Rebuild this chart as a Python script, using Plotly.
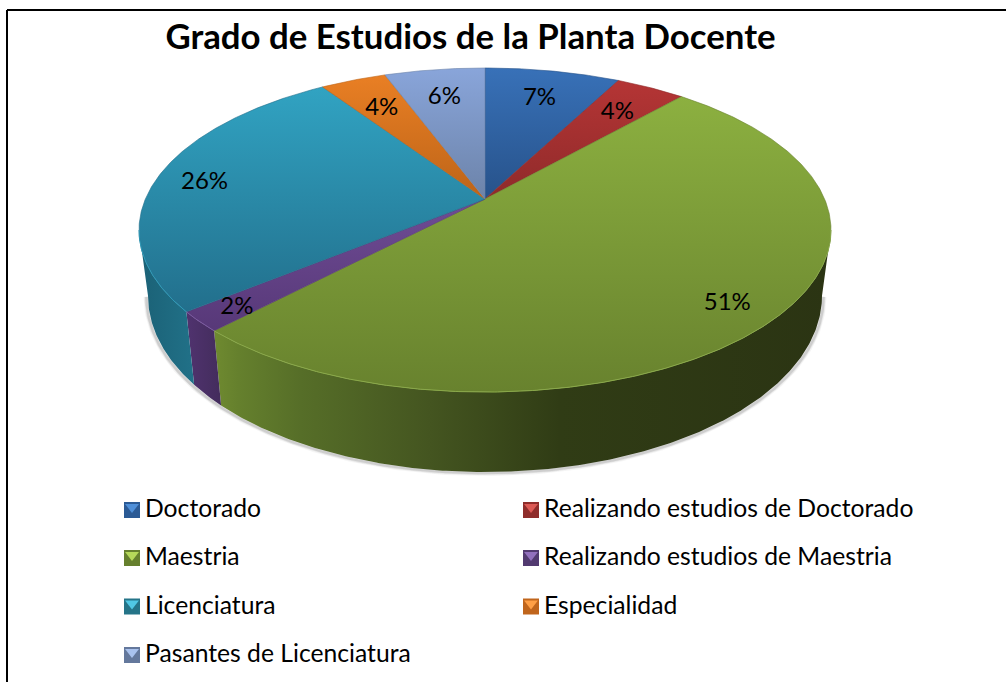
import numpy as np
import plotly.graph_objects as go

# ---------- data ----------
categories = ["Doctorado", "Realizando estudios de Doctorado", "Maestria",
              "Realizando estudios de Maestria", "Licenciatura", "Especialidad",
              "Pasantes de Licenciatura"]
shares = [7.6, 3.9, 50.55, 2.0, 26.6, 3.7, 5.65]
# percentage texts as printed on the chart
percent_labels = ["7%", "4%", "51%", "2%", "26%", "4%", "6%"]

# ---------- style ----------
TITLE = "Grado de Estudios de la Planta Docente"
FONT = "Lato"
label_radius = [.777, .775, .859, .884, .855, .756, .775]
top_colors = [("#27528a", "#3871b8"), ("#8f2a2a", "#b53535"), ("#68822e", "#8cb040"),
              ("#573878", "#6f4c95"), ("#226f8c", "#31a3c2"), ("#bd6418", "#e97f24"),
              ("#6c83a9", "#89a5da")]
wall_colors = {
    2: [[0, "#6f8a30"], [0.04, "#65802d"], [0.14, "#566e28"], [0.35, "#445520"],
        [0.56, "#303c15"], [1, "#2b3413"]],
    3: [[0, "#50336f"], [1, "#432c5c"]],
    4: [[0, "#1b6176"], [1, "#217188"]],
}
swatch_colors = [("#2b5a95", "#4f8fd8"), ("#8f2d2b", "#dc5a55"), ("#66802e", "#b5d85a"),
                 ("#523a70", "#9270bd"), ("#257488", "#50c8e5"), ("#c0651c", "#ff9f45"),
                 ("#64789c", "#a9c2ee")]

# projected pie geometry, page pixels
CX, CY_A, CY_B, CY_C = 485, 199, -118.0, 0.1914
K = 339.6


def project(r, theta):
    u, v = r * np.sin(theta), r * np.cos(theta)
    d = 1 + CY_C * v
    return CX + K * u / d, (CY_B * v + CY_A) / d


def lower(x, y):
    """Matching point on the bottom rim of the pie."""
    return CX + (x - CX) * 0.974, y + 45.7 + 0.0875 * y


def arc(t0, t1, n=None):
    n = n or max(3, int(abs(t1 - t0) * 120))
    return np.linspace(t0, t1, n)


edges = 2 * np.pi * np.cumsum([0] + shares) / sum(shares)
SIL_R, SIL_L = np.pi / 2 + np.arcsin(CY_C), 3 * np.pi / 2 - np.arcsin(CY_C)

fig = go.Figure()

# soft ground shadow below the walls
t = arc(SIL_R, SIL_L, 400)
bx, by = lower(*project(1, t))
for w, a in [(6, .06), (4, .10), (2.5, .16)]:
    fig.add_trace(go.Scatter(x=bx + 1.5 * np.sign(np.sin(t)), y=by + 1, mode="lines",
                             line=dict(color=f"rgba(90,90,90,{a})", width=w),
                             hoverinfo="skip", showlegend=False))

# side walls
for i, cs in wall_colors.items():
    a, b = max(edges[i], SIL_R), min(edges[i + 1], SIL_L)
    t = arc(a, b)
    x, y = project(1, t)
    lx, ly = lower(x, y)
    px, py = np.r_[x, lx[::-1], x[0]], np.r_[y, ly[::-1], y[0]]
    fig.add_trace(go.Scatter(x=px, y=py, mode="lines", fill="toself",
                             line=dict(width=0, color="rgba(0,0,0,0)"),
                             fillcolor=cs[0][1],
                             fillgradient=dict(type="horizontal", colorscale=cs),
                             hoverinfo="skip", showlegend=False))

# top surface wedges
for i, name in enumerate(categories):
    t = arc(edges[i], edges[i + 1])
    x, y = project(1, t)
    ax, ay = project(0, 0.0)
    px, py = np.r_[ax, x, ax], np.r_[ay, y, ay]
    low, high = top_colors[i]
    fig.add_trace(go.Scatter(x=px, y=py, mode="lines", fill="toself", name=name,
                             line=dict(width=0.6, color=low),
                             fillcolor=low,
                             fillgradient=dict(type="vertical",
                                               colorscale=[[0, low], [1, high]]),
                             hoverinfo="skip", showlegend=False))

# light rim on the front edge of the top surface
for i, col in {2: "#8aa94a", 3: "#7b5ba0", 4: "#2f9ab8"}.items():
    t = arc(max(edges[i], SIL_R), min(edges[i + 1], SIL_L))
    x, y = project(1, t)
    fig.add_trace(go.Scatter(x=x, y=y, mode="lines", line=dict(color=col, width=1),
                             hoverinfo="skip", showlegend=False))

# percentage labels
mid = (edges[:-1] + edges[1:]) / 2
lx, ly = project(np.array(label_radius), mid)
fig.add_trace(go.Scatter(x=lx, y=ly + 3, mode="text", text=percent_labels,
                         textposition="middle center",
                         textfont=dict(family=FONT, size=24, color="#000000"),
                         hoverinfo="skip", showlegend=False))

# legend, two columns, filled row by row
col_x = [132, 531]
row_y = [510, 558, 606.5, 655]
sw_x = [col_x[i % 2] for i in range(len(categories))]
sw_y = [row_y[i // 2] for i in range(len(categories))]
fig.add_trace(go.Scatter(x=sw_x, y=sw_y, mode="markers",
                         marker=dict(symbol="square", size=16,
                                     color=[c[0] for c in swatch_colors],
                                     line=dict(width=0)),
                         hoverinfo="skip", showlegend=False))
fig.add_trace(go.Scatter(x=sw_x, y=[v - 3 for v in sw_y], mode="markers",
                         marker=dict(symbol="triangle-down", size=12,
                                     color=[c[1] for c in swatch_colors],
                                     line=dict(width=0)),
                         hoverinfo="skip", showlegend=False))
fig.add_trace(go.Scatter(x=[v + 13 for v in sw_x], y=[v + 1 for v in sw_y], mode="text",
                         text=categories, textposition="middle right",
                         textfont=dict(family=FONT, size=24.7, color="#000000"),
                         hoverinfo="skip", showlegend=False))

fig.update_layout(
    width=1006, height=682, margin=dict(l=0, r=0, t=0, b=0),
    paper_bgcolor="#ffffff", plot_bgcolor="#ffffff", showlegend=False,
    title=dict(text=f"<b>{TITLE}</b>", font=dict(family=FONT, size=34.8, color="#000000"),
               x=470.5 / 1006, y=1 - 37 / 682, xanchor="center", yanchor="middle"),
    xaxis=dict(range=[0, 1006], visible=False, fixedrange=True),
    yaxis=dict(range=[682, 0], visible=False, fixedrange=True),
    shapes=[
        dict(type="line", xref="x", yref="y", x0=7, x1=1006, y0=10, y1=10,
             line=dict(color="#000000", width=2)),
        dict(type="line", xref="x", yref="y", x0=7, x1=7, y0=10, y1=682,
             line=dict(color="#000000", width=2)),
    ],
)
fig.write_html("out.html", config={"displayModeBar": False},
               post_script="document.body.style.margin='0';document.body.style.overflow='hidden';")
